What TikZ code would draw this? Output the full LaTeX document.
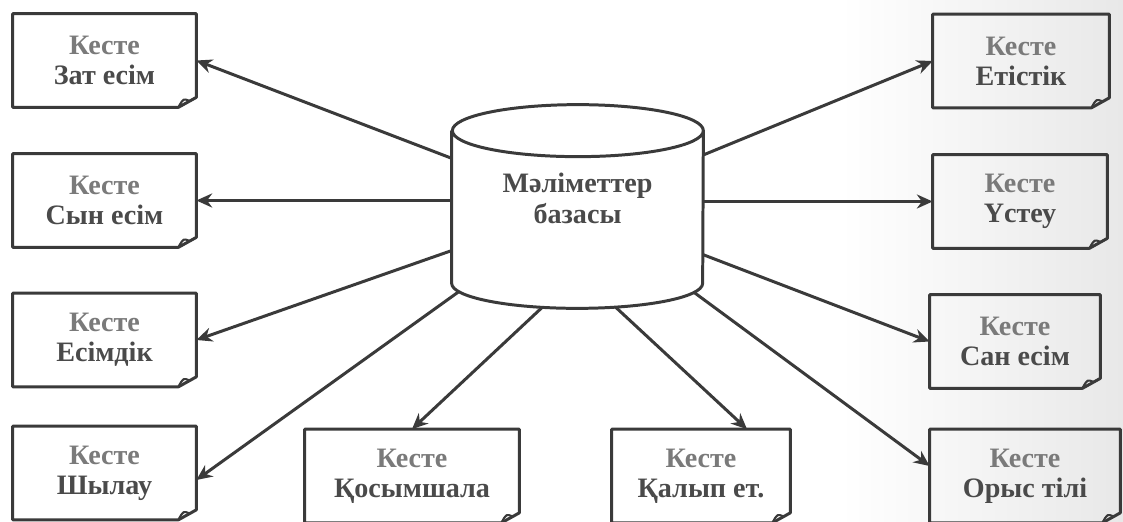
\documentclass[tikz,border=0pt]{standalone}
\usepackage{fontspec}
\setmainfont{Liberation Serif}
\usepackage{tikz}
\usetikzlibrary{arrows.meta,positioning}
\definecolor{lineGrey}{HTML}{3A3A3A}
\definecolor{kesteGrey}{HTML}{7A7A7A}
\definecolor{nameGrey}{HTML}{4A4A4A}
\tikzstyle{arrow} = [line width=1.7pt,draw=lineGrey,->,>={Stealth[length=9pt,width=8pt]}]
\newcommand{\kesteTop}{\textcolor{kesteGrey}{Кесте}}

\begin{document}
\begin{tikzpicture}[x=0.2mm,y=-0.2mm]
    \tikzstyle{kesteBox}=[inner sep=0pt,minimum height=18.6mm,align=center,text=nameGrey,font=\fontsize{16}{17}\selectfont\bfseries]
    \tikzstyle{docLine}=[draw=lineGrey,line width=1.7pt,line join=round]

    \useasboundingbox (0,0) rectangle (1123,522);
    \fill [white] (0,0) rectangle (1123,522);
    \shade [left color=white,right color=black!9] (840,0) rectangle (1123,522);

    \node (dbase) [inner sep=0pt,minimum width=50.2mm,minimum height=40.6mm] at (577.5,206.5) {};

    \node (tabZat) [kesteBox,minimum width=36.6mm] at (104.5,60.5) {\kesteTop\\Зат есім};
    \node (tabSyn) [kesteBox,minimum width=36.6mm] at (104.5,200.5) {\kesteTop\\Сын есім};
    \node (tabEsim) [kesteBox,minimum width=36.6mm] at (104.5,340) {\kesteTop\\Есімдік};
    \node (tabShylau) [kesteBox,minimum width=36.6mm] at (104.5,473) {\kesteTop\\Шылау};
    \node (tabQosym) [kesteBox,minimum width=42.8mm] at (412,476) {\kesteTop\\Қосымшала};
    \node (tabQalyp) [kesteBox,minimum width=35.6mm] at (701,476) {\kesteTop\\Қалып ет.};
    \node (tabEtis) [kesteBox,minimum width=35.2mm] at (1021,61) {\kesteTop\\Етістік};
    \node (tabUstew) [kesteBox,minimum width=34.8mm] at (1020,201.5) {\kesteTop\\Үстеу};
    \node (tabSan) [kesteBox,minimum width=34mm] at (1015,341.5) {\kesteTop\\Сан есім};
    \node (tabOrys) [kesteBox,minimum width=38mm] at (1025,476) {\kesteTop\\Орыс тілі};

    % arrows first, the cylinder covers their start
    \draw [arrow] (dbase.center) -- (tabZat.east);
    \draw [arrow] (dbase.center |- tabSyn.east) -- (tabSyn.east);
    \draw [arrow] (dbase.center) -- (tabEsim.east);
    \draw [arrow] (dbase.center) -- ([yshift=-1.4mm]tabShylau.east);
    \draw [arrow] ([xshift=-6.2mm,yshift=1mm]dbase.south) -- (tabQosym.north);
    \draw [arrow] ([xshift=6.8mm,yshift=1mm]dbase.south) -- ([xshift=9.2mm]tabQalyp.north);
    \draw [arrow] (dbase.center) -- (tabEtis.west);
    \draw [arrow] (dbase.center |- tabUstew.west) -- (tabUstew.west);
    \draw [arrow] (dbase.center) -- (tabSan.west);
    \draw [arrow] (dbase.center) -- ([yshift=2mm]tabOrys.west);

    % cylinder
    \filldraw [docLine,fill=white] ([yshift=-5.2mm]dbase.north west) -- ([yshift=5mm]dbase.south west)
        arc [start angle=180,end angle=360,x radius=25.1mm,y radius=5mm]
        -- ([yshift=-5.2mm]dbase.north east)
        arc [start angle=0,end angle=360,x radius=25.1mm,y radius=5.2mm];
    \node (dbaseText) [align=center,text=nameGrey,font=\fontsize{16}{18}\selectfont\bfseries] at ([yshift=1.6mm]dbase.center) {Мәліметтер\\базасы};

    % tables with folded corner
    \foreach \t in {tabZat,tabSyn,tabEsim,tabShylau,tabQosym,tabQalyp,tabEtis,tabUstew,tabSan,tabOrys}{
        \draw [docLine] (\t.south west) -- (\t.north west) -- (\t.north east)
            -- ([yshift=2mm]\t.south east) -- ([xshift=-3.6mm]\t.south east) -- cycle;
        \draw [docLine,line width=1.2pt] ([xshift=-3.6mm]\t.south east)
            .. controls ([xshift=-2.6mm,yshift=1.8mm]\t.south east) .. ([xshift=-1.4mm,yshift=1.3mm]\t.south east);
    }
\end{tikzpicture}
\end{document}
